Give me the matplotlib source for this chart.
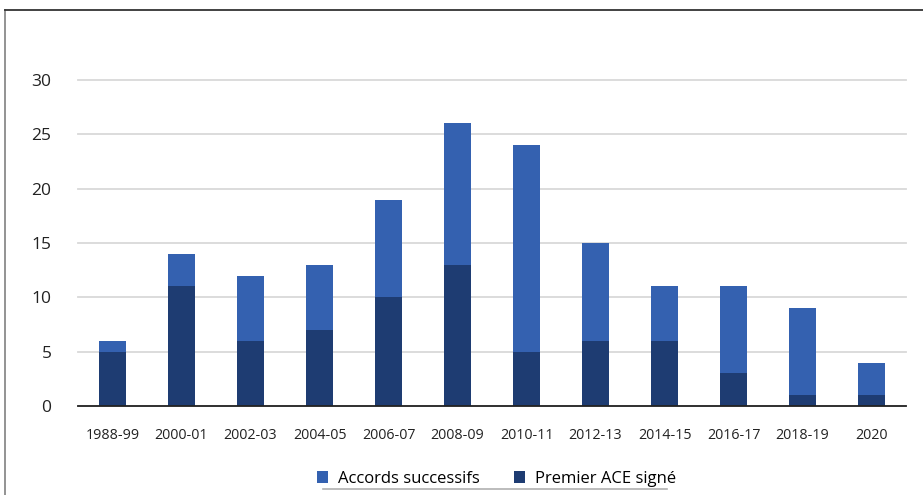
import matplotlib
matplotlib.use('Agg')
import matplotlib.pyplot as plt
from matplotlib.lines import Line2D
import numpy as np

plt.rcParams['font.family'] = ['Open Sans', 'DejaVu Sans']

periods = ['1988-99', '2000-01', '2002-03', '2004-05', '2006-07', '2008-09',
           '2010-11', '2012-13', '2014-15', '2016-17', '2018-19', '2020']
premier = [5, 11, 6, 7, 10, 13, 5, 6, 6, 3, 1, 1]
successifs = [1, 3, 6, 6, 9, 13, 19, 9, 5, 8, 8, 3]

C_LIGHT = '#3461b0'
C_DARK = '#1e3c72'

fig = plt.figure(figsize=(9.23, 4.95), dpi=100)
ax = fig.add_axes([0.0845, 0.1798, 0.8971, 0.6586])

x = np.arange(len(periods))
ax.bar(x, premier, width=0.4, color=C_DARK, zorder=3, label='Premier ACE signé')
ax.bar(x, successifs, width=0.4, bottom=premier, color=C_LIGHT, zorder=3,
       label='Accords successifs')

ax.set_xlim(-0.5, len(periods) - 0.5)
ax.set_ylim(0, 30)
ax.set_yticks(range(0, 31, 5))
ax.set_xticks(x)
ax.set_xticklabels(periods)
ax.yaxis.grid(True, color='#d9d9d9', lw=1.3, zorder=0)
for g in ax.get_ygridlines():
    g.set_clip_on(False)
ax.tick_params(length=0, colors='#222222')
ax.tick_params(axis='y', pad=19, labelsize=12.5)
ax.tick_params(axis='x', pad=16, labelsize=10.3)
for s in ['top', 'right', 'left']:
    ax.spines[s].set_visible(False)
ax.spines['bottom'].set_color('#222222')
ax.spines['bottom'].set_linewidth(1.3)
ax.spines['bottom'].set_zorder(4)

# legend, light series first
h, l = ax.get_legend_handles_labels()
leg = fig.legend([h[1], h[0]], [l[1], l[0]], loc='center', ncol=2,
                 bbox_to_anchor=(0.538, 0.032), frameon=False, fontsize=12,
                 handlelength=0.7, handleheight=0.7, handletextpad=0.6,
                 columnspacing=2.0)

# frame and legend underline
fig.add_artist(Line2D([0.0054, 0.0054], [0.0, 0.98], color='#8a8a8a', lw=1.3,
                      transform=fig.transFigure))
fig.add_artist(Line2D([0.0054, 1.0], [0.98, 0.98], color='#333333', lw=1.3,
                      transform=fig.transFigure))
fig.add_artist(Line2D([0.350, 0.723], [0.012, 0.012], color='#b0b0b0', lw=1.2,
                      transform=fig.transFigure))

fig.savefig('out.png', dpi=100)
